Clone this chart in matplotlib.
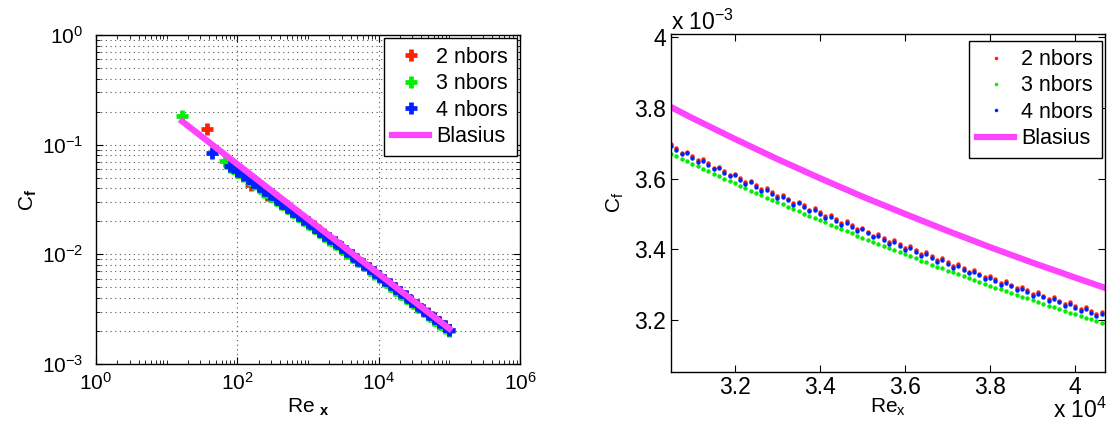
import matplotlib
matplotlib.use("Agg")
import matplotlib.pyplot as plt
import numpy as np
from matplotlib.ticker import FixedLocator, NullFormatter

plt.rcParams['font.family'] = ['Liberation Sans', 'DejaVu Sans']
plt.rcParams['mathtext.fontset'] = 'custom'
plt.rcParams['mathtext.rm'] = 'Liberation Sans'
plt.rcParams['mathtext.it'] = 'Liberation Sans:italic'
plt.rcParams['mathtext.bf'] = 'Liberation Sans:bold'

# ---- full range (log-log) ----
# first few isolated points of each run
re_lead_2 = [37, 155, 263]
cf_lead_2 = [0.139, 0.043, 0.035]
re_lead_3 = [16.6, 66]
cf_lead_3 = [0.183, 0.0705]
re_lead_4 = [44.5, 164]
cf_lead_4 = [0.0836, 0.046]

re_band = [80, 100, 120, 140, 170, 200, 240, 290, 350, 420, 500, 600, 720, 860,
           1000, 1200, 1450, 1700, 2000, 2400, 2900, 3500, 4200, 5000, 6000,
           7200, 8600, 10000, 12000, 14500, 17000, 20000, 24000, 29000, 35000,
           42000, 50000, 60000, 72000, 86000, 100000]
cf_band_2 = [0.0646, 0.0583, 0.0537, 0.05, 0.0456, 0.0423, 0.0388, 0.0355, 0.0325,
             0.0298, 0.0274, 0.0251, 0.023, 0.0211, 0.01965, 0.018, 0.01643,
             0.01522, 0.01408, 0.01289, 0.01175, 0.01072, 0.00981, 0.009, 0.00823,
             0.00753, 0.0069, 0.0064, 0.00585, 0.00533, 0.00493, 0.00455, 0.00415,
             0.00377, 0.00344, 0.00314, 0.00289, 0.00263, 0.00241, 0.00221, 0.00205]
cf_band_3 = [0.0624, 0.0563, 0.0518, 0.0482, 0.044, 0.0408, 0.0374, 0.0342, 0.0313,
             0.0287, 0.0265, 0.0243, 0.0222, 0.0204, 0.01898, 0.01739, 0.01587,
             0.01471, 0.0136, 0.01245, 0.01135, 0.01036, 0.00948, 0.0087, 0.00795,
             0.00728, 0.00666, 0.00619, 0.00566, 0.00515, 0.00476, 0.00439, 0.00402,
             0.00365, 0.00333, 0.00304, 0.00279, 0.00254, 0.00233, 0.00213, 0.00198]
cf_band_4 = [0.0643, 0.058, 0.0534, 0.0497, 0.0454, 0.0421, 0.0386, 0.0353, 0.0323,
             0.0296, 0.0273, 0.025, 0.0229, 0.021, 0.01957, 0.01793, 0.01636,
             0.01516, 0.01402, 0.01284, 0.0117, 0.01068, 0.00977, 0.00897, 0.0082,
             0.0075, 0.00687, 0.00638, 0.00583, 0.00531, 0.00491, 0.00453, 0.00414,
             0.00376, 0.00343, 0.00313, 0.00288, 0.00262, 0.0024, 0.0022, 0.00204]

re_blasius = [16.6, 100, 1000, 10000, 100000]
cf_blasius = [0.163, 0.0664, 0.021, 0.00664, 0.0021]

# ---- zoomed range, Cf in units of 1e-3 ----
re_zoom = [30500, 30625, 30750, 30875,
           31000, 31125, 31250, 31375, 31500, 31625, 31750, 31875,
           32000, 32125, 32250, 32375, 32500, 32625, 32750, 32875,
           33000, 33125, 33250, 33375, 33500, 33625, 33750, 33875,
           34000, 34125, 34250, 34375, 34500, 34625, 34750, 34875,
           35000, 35125, 35250, 35375, 35500, 35625, 35750, 35875,
           36000, 36125, 36250, 36375, 36500, 36625, 36750, 36875,
           37000, 37125, 37250, 37375, 37500, 37625, 37750, 37875,
           38000, 38125, 38250, 38375, 38500, 38625, 38750, 38875,
           39000, 39125, 39250, 39375, 39500, 39625, 39750, 39875,
           40000, 40125, 40250, 40375, 40500, 40625]
cf_zoom_2 = [3.697, 3.685, 3.673, 3.676, 3.664, 3.652, 3.655, 3.643, 3.631,
             3.634, 3.622, 3.611, 3.614, 3.602, 3.590, 3.594, 3.582, 3.570,
             3.574, 3.562, 3.551, 3.554, 3.543, 3.531, 3.535, 3.524, 3.512,
             3.516, 3.505, 3.493, 3.497, 3.486, 3.475, 3.479, 3.468, 3.457,
             3.461, 3.450, 3.439, 3.443, 3.432, 3.421, 3.425, 3.414, 3.404,
             3.408, 3.397, 3.387, 3.391, 3.380, 3.370, 3.374, 3.364, 3.353,
             3.358, 3.347, 3.337, 3.341, 3.331, 3.321, 3.325, 3.315, 3.305,
             3.310, 3.300, 3.290, 3.294, 3.284, 3.274, 3.279, 3.269, 3.259,
             3.264, 3.255, 3.245, 3.250, 3.240, 3.231, 3.236, 3.226, 3.216,
             3.222]
cf_zoom_3 = [3.670, 3.663, 3.656, 3.649, 3.642, 3.635, 3.628, 3.621, 3.614,
             3.607, 3.600, 3.593, 3.587, 3.580, 3.573, 3.566, 3.560, 3.553,
             3.546, 3.540, 3.533, 3.527, 3.520, 3.514, 3.507, 3.501, 3.495,
             3.488, 3.482, 3.476, 3.470, 3.463, 3.457, 3.451, 3.445, 3.439,
             3.433, 3.427, 3.421, 3.415, 3.409, 3.403, 3.397, 3.391, 3.386,
             3.380, 3.374, 3.368, 3.363, 3.357, 3.351, 3.346, 3.340, 3.335,
             3.329, 3.324, 3.318, 3.313, 3.308, 3.302, 3.297, 3.292, 3.287,
             3.281, 3.276, 3.271, 3.266, 3.261, 3.256, 3.251, 3.246, 3.241,
             3.236, 3.231, 3.226, 3.221, 3.216, 3.212, 3.207, 3.202, 3.198,
             3.193]
cf_zoom_4 = [3.692, 3.680, 3.668, 3.671, 3.659, 3.647, 3.650, 3.638, 3.626,
             3.629, 3.617, 3.606, 3.609, 3.597, 3.585, 3.589, 3.577, 3.565,
             3.569, 3.557, 3.546, 3.549, 3.538, 3.526, 3.530, 3.519, 3.507,
             3.511, 3.500, 3.488, 3.492, 3.481, 3.470, 3.474, 3.463, 3.452,
             3.456, 3.445, 3.434, 3.438, 3.427, 3.416, 3.420, 3.409, 3.399,
             3.403, 3.392, 3.382, 3.386, 3.375, 3.365, 3.369, 3.359, 3.348,
             3.353, 3.342, 3.332, 3.336, 3.326, 3.316, 3.320, 3.310, 3.300,
             3.305, 3.295, 3.285, 3.289, 3.279, 3.269, 3.274, 3.264, 3.254,
             3.259, 3.250, 3.240, 3.245, 3.235, 3.226, 3.231, 3.221, 3.211,
             3.217]
re_blasius_zoom = [30500, 31000, 32000, 33000, 34000, 35000, 36000, 37000,
                   38000, 39000, 40000, 40700]
cf_blasius_zoom = [3.802, 3.771, 3.712, 3.655, 3.601, 3.549, 3.500, 3.452,
                   3.406, 3.362, 3.320, 3.291]

red = '#ff2200'
green = '#00ee00'
blue = '#0022ff'
magenta = '#ff44ff'
labels = ['2 nbors', '3 nbors', '4 nbors', 'Blasius']

W, H = 1110, 430
fig = plt.figure(figsize=(W / 100, H / 100), dpi=100)


def box(x0, x1, y0, y1):
    return [x0 / W, 1 - y1 / H, (x1 - x0) / W, (y1 - y0) / H]


leg_kw = dict(loc='upper right', borderaxespad=0, fontsize=15.5, fancybox=False,
              edgecolor='black', framealpha=1, handlelength=1.7, labelspacing=0.25,
              borderpad=0.4, handletextpad=0.35, numpoints=1)

# left: full range on log-log axes
ax1 = fig.add_axes(box(96, 520, 35, 364))
pk = dict(linestyle='none', marker='+', ms=8, mew=3.4)
ax1.loglog(re_lead_2 + re_band, cf_lead_2 + cf_band_2, color=red, label=labels[0], **pk)
ax1.loglog(re_lead_3 + re_band, cf_lead_3 + cf_band_3, color=green, label=labels[1], **pk)
ax1.loglog(re_lead_4 + re_band, cf_lead_4 + cf_band_4, color=blue, label=labels[2], **pk)
ax1.loglog(re_blasius, cf_blasius, color=magenta, lw=4.5, label=labels[3])
ax1.set_xlim(1, 1e6)
ax1.set_ylim(1e-3, 1)
ax1.xaxis.set_major_locator(FixedLocator([1, 1e2, 1e4, 1e6]))
ax1.xaxis.set_minor_locator(FixedLocator(
    [m * 10.0 ** k for k in range(0, 6) for m in range(1, 10) if not (m == 1 and k % 2 == 0)]))
ax1.yaxis.set_major_locator(FixedLocator([1e-3, 1e-2, 1e-1, 1]))
ax1.yaxis.set_minor_locator(FixedLocator(
    [m * 10.0 ** k for k in range(-3, 0) for m in range(2, 10)]))
ax1.xaxis.set_minor_formatter(NullFormatter())
ax1.yaxis.set_minor_formatter(NullFormatter())
# dotted grid: every decade line in y, only labelled decades in x
ax1.grid(True, which='major', linestyle=(0, (1, 3.2)), color='#555555', lw=0.8)
ax1.yaxis.grid(True, which='minor', linestyle=(0, (1, 3.2)), color='#555555', lw=0.8)
ax1.tick_params(which='both', direction='in', top=True, right=True, labelsize=15)
ax1.tick_params(which='major', length=5)
ax1.tick_params(which='minor', length=3)
ax1.tick_params(axis='y', pad=9)
ax1.tick_params(axis='x', pad=6)
ax1.set_xlabel(r'Re $_{\mathbf{x}}$', fontsize=15)
ax1.set_ylabel(r'C$_{\mathbf{f}}$', fontsize=15)
ax1.xaxis.set_label_coords(0.5, -0.1)
ax1.yaxis.set_label_coords(-0.135, 0.5)
leg1 = ax1.legend(bbox_to_anchor=(1 - 3.3 / 424, 1 - 3.3 / 329), **leg_kw)
leg1.get_frame().set_linewidth(1.0)

# right: close-up of the downstream range
ax2 = fig.add_axes(box(671, 1105, 33.5, 371.7))
dk = dict(linestyle='none', marker='o', ms=3.2, mew=0)
ax2.plot(np.array(re_zoom) / 1e4, cf_zoom_2, color=red, label=labels[0], **dk)
ax2.plot(np.array(re_zoom) / 1e4, cf_zoom_3, color=green, label=labels[1], **dk)
ax2.plot(np.array(re_zoom) / 1e4, cf_zoom_4, color=blue, label=labels[2], **dk)
ax2.plot(np.array(re_blasius_zoom) / 1e4, cf_blasius_zoom, color=magenta, lw=4.5,
         label=labels[3])
ax2.set_xlim(3.05, 4.07)
ax2.set_ylim(3.054, 4.01)
ax2.set_xticks([3.2, 3.4, 3.6, 3.8, 4.0])
ax2.set_xticklabels(['3.2', '3.4', '3.6', '3.8', '4'])
ax2.set_yticks([3.2, 3.4, 3.6, 3.8, 4.0])
ax2.set_yticklabels(['3.2', '3.4', '3.6', '3.8', '4'])
ax2.tick_params(direction='in', top=True, right=True, labelsize=16.5, length=5)
ax2.tick_params(axis='y', pad=3.5)
ax2.tick_params(axis='x', pad=3)
ax2.set_xlabel(r'Re$_{\mathrm{x}}$', fontsize=15)
ax2.set_ylabel(r'C$_{\mathrm{f}}$', fontsize=15)
ax2.xaxis.set_label_coords(0.5, -0.075)
ax2.yaxis.set_label_coords(-0.104, 0.5)
ax2.text(0, 1.0104, r'x 10$^{-3}$', transform=ax2.transAxes, fontsize=16.5,
         ha='left', va='baseline')
ax2.text(1.005, -0.136, r'x 10$^{4}$', transform=ax2.transAxes, fontsize=16.5,
         ha='right', va='baseline')
leg2 = ax2.legend(bbox_to_anchor=(1 - 3.3 / 434, 1 - 7 / 338), markerscale=0.8, **leg_kw)
leg2.get_frame().set_linewidth(1.0)

for ax in (ax1, ax2):
    for s in ax.spines.values():
        s.set_linewidth(1.0)

fig.savefig('out.png', dpi=100)
